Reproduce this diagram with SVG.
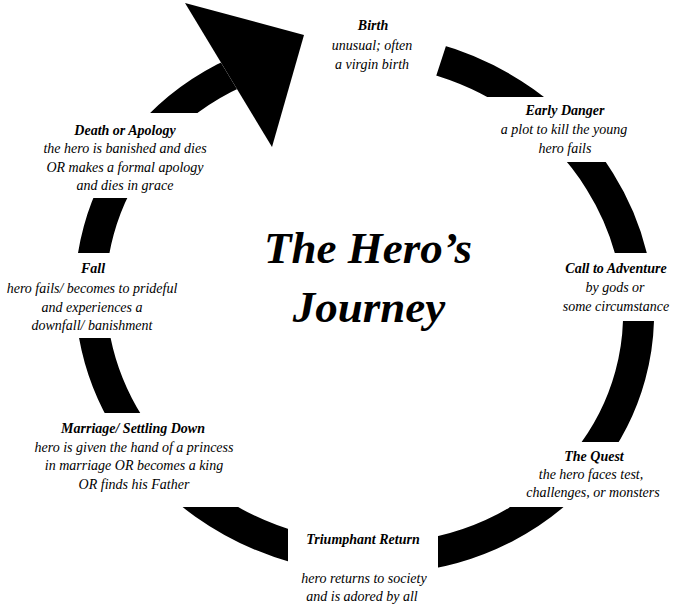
<svg xmlns="http://www.w3.org/2000/svg" width="681" height="610" viewBox="0 0 681 610">
<style>
.t{font-family:"Liberation Serif","Times New Roman",serif;font-style:italic;font-size:14px;fill:#000;text-anchor:middle}
.b{font-weight:bold}
.title{font-family:"Liberation Serif","Times New Roman",serif;font-style:italic;font-weight:bold;font-size:45px;fill:#000;text-anchor:middle}
.ring{fill:none;stroke:#000;stroke-width:31}
</style>
<defs>
<clipPath id="gaps" clipPathUnits="userSpaceOnUse">
<path clip-rule="evenodd" d="M0,0H681V610H0Z M440,97H681V162H440Z M450,253H681V321H450Z M450,442H681V507H450Z M288,450H438V610H288Z M0,413H280V507H0Z M0,253H260V338H0Z M0,113H245V198H0Z M183,0L461,0L425,110L272,147Z"/>
</clipPath>
</defs>
<rect width="681" height="610" fill="#fff"/>
<g id="connectors">
<g clip-path="url(#gaps)">
<ellipse class="ring" cx="364.5" cy="303" rx="275.5" ry="254" transform="rotate(15.3 364.5 303)"/>
</g>
<polygon id="arrowhead" points="185,3 304,35 272,147" fill="#000"/>
</g>
<g id="title">
<text class="title" x="368" y="263">The Hero’s</text>
<text class="title" x="369" y="322">Journey</text>
</g>
<g id="birth">
<text class="t b" x="373" y="30">Birth</text>
<text class="t" x="372" y="50">unusual; often</text>
<text class="t" x="372" y="69">a virgin birth</text>
</g>
<g id="early-danger">
<text class="t b" x="565" y="115">Early Danger</text>
<text class="t" x="564" y="134">a plot to kill the young</text>
<text class="t" x="565" y="153">hero fails</text>
</g>
<g id="call-to-adventure">
<text class="t b" x="616" y="273">Call to Adventure</text>
<text class="t" x="615" y="292">by gods or</text>
<text class="t" x="616" y="311">some circumstance</text>
</g>
<g id="the-quest">
<text class="t b" x="594" y="461">The Quest</text>
<text class="t" x="591" y="479">the hero faces test,</text>
<text class="t" x="593" y="497">challenges, or monsters</text>
</g>
<g id="triumphant-return">
<text class="t b" x="363" y="544">Triumphant Return</text>
<text class="t" x="364" y="583">hero returns to society</text>
<text class="t" x="362" y="601">and is adored by all</text>
</g>
<g id="marriage">
<text class="t b" x="133" y="433">Marriage/ Settling Down</text>
<text class="t" x="134" y="452">hero is given the hand of a princess</text>
<text class="t" x="134" y="470">in marriage OR becomes a king</text>
<text class="t" x="134" y="489">OR finds his Father</text>
</g>
<g id="fall">
<text class="t b" x="93" y="273">Fall</text>
<text class="t" x="92" y="293">hero fails/ becomes to prideful</text>
<text class="t" x="92" y="312">and experiences a</text>
<text class="t" x="92" y="330">downfall/ banishment</text>
</g>
<g id="death-or-apology">
<text class="t b" x="125" y="135">Death or Apology</text>
<text class="t" x="125" y="153">the hero is banished and dies</text>
<text class="t" x="125" y="172">OR makes a formal apology</text>
<text class="t" x="125" y="190">and dies in grace</text>
</g>
</svg>
